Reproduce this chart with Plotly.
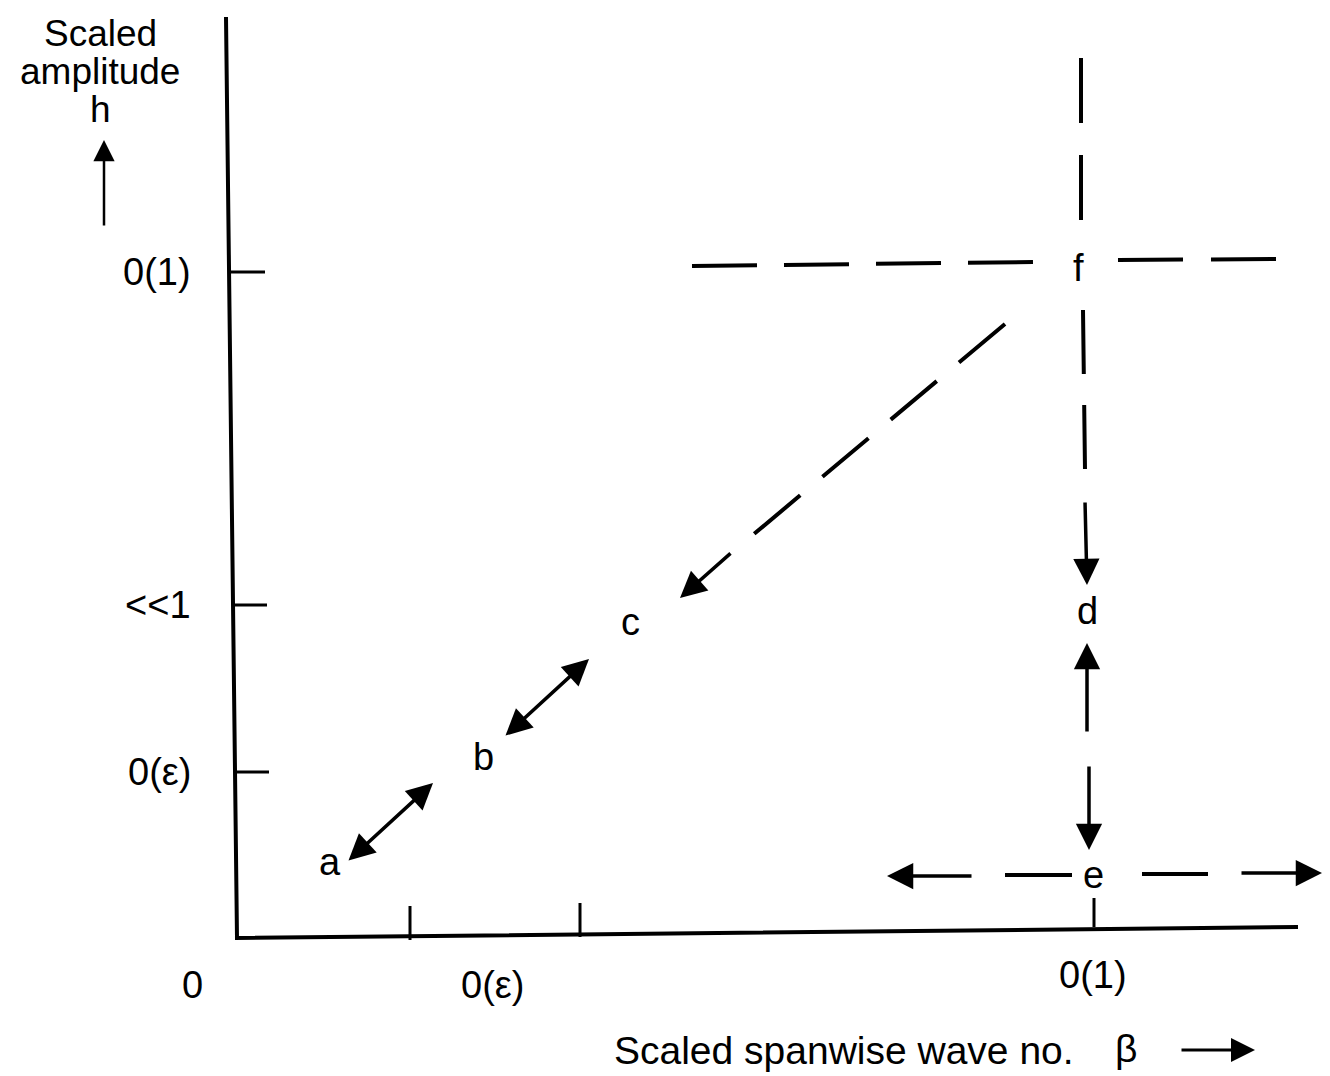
import plotly.graph_objects as go

# ---- schematic content (coordinates in the figure's own pixel-like data space) ----
y_tick_labels = ["0(1)", "<<1", "0(ε)"]
y_tick_levels = [272, 605, 772]
x_tick_labels = ["0", "0(ε)", "0(1)"]
x_tick_label_x = [192, 492, 1093]
x_tick_label_y = [985, 985, 975]
x_tick_marks = [410, 580, 1094]
x_tick_tops = [906, 903, 898]
x_tick_bottoms = [940, 937, 927]

regime_labels = ["a", "b", "c", "d", "e", "f"]
regime_x = [330, 483, 630, 1087, 1093, 1078]
regime_y = [862, 757, 622, 611, 875, 268]

y_title_lines = ["Scaled", "amplitude", "h"]
y_title_rows = [33, 71, 109]
x_title = "Scaled spanwise wave no."
x_title_symbol = "β"

# axis frame
axis_x = [226, 237, 1298]
axis_y = [17, 938, 927]

FONT = "Liberation Sans, Arial, Helvetica, sans-serif"
FS = 38
BLACK = "black"
PAGE_OFFSET = 8  # default body margin of the html page

fig = go.Figure()

def line(xs, ys, width=4, dash="solid"):
    fig.add_trace(go.Scatter(x=xs, y=ys, mode="lines",
                             line=dict(color=BLACK, width=width, dash=dash),
                             hoverinfo="skip", showlegend=False))

def arrow(x0, y0, x1, y1, width=3, size=1.8, both=False):
    fig.add_annotation(x=x1, y=y1, ax=x0, ay=y0, xref="x", yref="y",
                       axref="x", ayref="y", text="", showarrow=True,
                       arrowhead=2, startarrowhead=2, arrowsize=size,
                       startarrowsize=size, arrowwidth=width,
                       arrowcolor=BLACK, standoff=0, startstandoff=0,
                       arrowside="end+start" if both else "end")

def label(x, y, t, xanchor="center", size=FS):
    fig.add_annotation(x=x, y=y, xref="x", yref="y", text=t, showarrow=False,
                       xanchor=xanchor, yanchor="middle", borderpad=0,
                       font=dict(family=FONT, size=size, color=BLACK))

# axes
line(axis_x, axis_y, width=4)

# y ticks + labels
tick_x0 = [231, 233, 235]
for lev, x0, t in zip(y_tick_levels, tick_x0, y_tick_labels):
    line([x0, x0 + 34], [lev, lev], width=3)
    label(192, lev, t, xanchor="right")

# x ticks + labels
for xm, yt, yb in zip(x_tick_marks, x_tick_tops, x_tick_bottoms):
    line([xm, xm], [yt, yb], width=3)
for xl, yl, t in zip(x_tick_label_x, x_tick_label_y, x_tick_labels):
    label(xl, yl, t)

# axis titles
for row, t in zip(y_title_rows, y_title_lines):
    label(100, row, t, size=37)
arrow(104, 227, 104, 140, width=2.5, size=1.7)

label(613, 1050, x_title, xanchor="left", size=39)
label(1126, 1048, x_title_symbol, size=39)
arrow(1180, 1050, 1255, 1050, width=3, size=1.6)

# regime labels
for x, y, t in zip(regime_x, regime_y, regime_labels):
    label(x, y, t)

# a <-> b, b <-> c
arrow(347, 862, 433, 783, width=3.5, size=1.5, both=True)
arrow(504, 737, 589, 659, width=3.5, size=1.5, both=True)

# horizontal dashed line through f
line([692, 1037], [266, 262], width=4, dash="65px,27px")
line([1118, 1277], [260, 259], width=4, dash="65px,28px")

# vertical dashed line through f, down to d
line([1081, 1081], [58, 222], width=4, dash="65px,32px")
line([1083, 1085], [310, 470], width=4, dash="64px,31px")
arrow(1085, 501, 1087, 585, width=3.5, size=1.5)

# diagonal dashed f -> c
line([1005, 754], [324, 534], width=4, dash="60px,29px")
arrow(732, 552, 680, 598, width=3.5, size=1.5)

# d <-> e
arrow(1087, 733, 1087, 643, width=3.5, size=1.5)
arrow(1089, 765, 1089, 850, width=3.5, size=1.5)

# horizontal dashed through e
arrow(973, 876, 887, 876, width=3.5, size=1.5)
line([1005, 1072], [875, 875], width=4)
line([1142, 1208], [874, 874], width=4)
arrow(1240, 873, 1322, 873, width=3.5, size=1.5)

W, H = 1330, 1076
fig.update_layout(
    width=W - PAGE_OFFSET, height=H - PAGE_OFFSET,
    margin=dict(l=0, r=0, t=0, b=0),
    paper_bgcolor="white", plot_bgcolor="white",
    xaxis=dict(range=[PAGE_OFFSET, W], visible=False, fixedrange=True),
    yaxis=dict(range=[H, PAGE_OFFSET], visible=False, fixedrange=True),
    showlegend=False,
)

fig.write_html("out.html")
